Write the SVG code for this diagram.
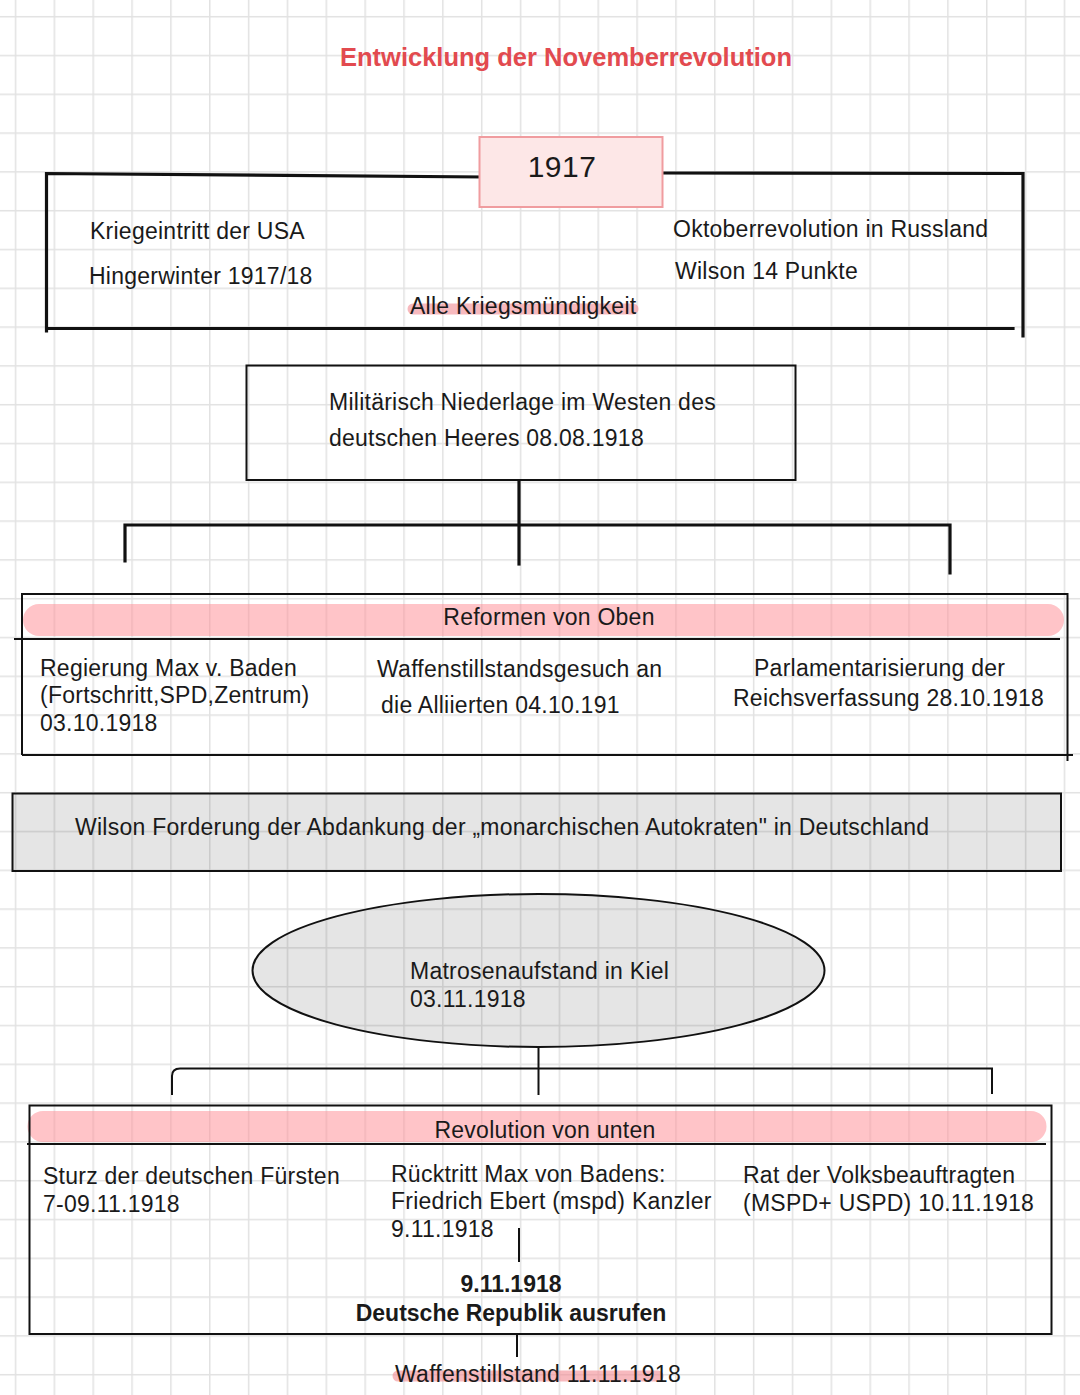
<svg xmlns="http://www.w3.org/2000/svg" width="1080" height="1395" viewBox="0 0 1080 1395">
<defs>
<pattern id="grid" patternUnits="userSpaceOnUse" x="14.75" y="15.95" width="38.85" height="38.8">
<path d="M0 0.75 H38.85 M0.75 0 V38.8" fill="none" stroke="#e2e2e2" stroke-width="1.5"/>
</pattern>
<style>
.t{font-family:"Liberation Sans",Arial,Helvetica,sans-serif;font-size:23px;fill:#1a1a1a;letter-spacing:0.25px}
.b{font-weight:bold;letter-spacing:0}
.c{text-anchor:middle}
.thick{fill:none;stroke:#111;stroke-width:3.2;stroke-linecap:square}
.thin{fill:none;stroke:#111;stroke-width:2}
.box{fill:none;stroke:#111;stroke-width:2}
.band{fill:#ff8a92;fill-opacity:0.5}
.hl{fill:none;stroke:#f28b93;stroke-opacity:0.6;stroke-linecap:round}
.gray{fill:#000;fill-opacity:0.1;stroke:#111;stroke-width:2}
</style>
</defs>
<rect width="1080" height="1395" fill="#fff"/>
<rect width="1080" height="1395" fill="url(#grid)"/>

<g id="title">
<text class="t b c" x="566" y="66" style="font-size:25.5px;fill:#e24a4f">Entwicklung der Novemberrevolution</text>
</g>

<g id="connectors">
<path class="thick" d="M484 177 L46.5 173.5 L46.5 331"/>
<path class="thick" d="M49 328.5 L1013 328.5"/>
<path class="thick" d="M663 173 L1023 173.5 L1023 336"/>
<path class="thick" d="M519 481 L519 564"/>
<path class="thick" d="M125 561 L125 525 L950 525 L950 573"/>
<path class="thin" d="M538.5 1047 L538.5 1095"/>
<path class="thin" d="M172 1095 L172 1076 Q172 1068.5 180 1068.5 L992 1068.5 L992 1094"/>
<path class="thin" d="M519 1228 L519 1262"/>
<path class="thin" d="M517 1335 L517 1357"/>
</g>

<g id="node-1917">
<rect x="479.5" y="137" width="183" height="70" fill="#fde7e7" stroke="#f09c9f" stroke-width="2"/>
<text class="t c" x="562" y="177" style="font-size:30px;letter-spacing:0.5px">1917</text>
</g>

<g id="node-1917-texts">
<text class="t" x="90" y="239">Kriegeintritt der USA</text>
<text class="t" x="89" y="284">Hingerwinter 1917/18</text>
<text class="t" x="673" y="237">Oktoberrevolution in Russland</text>
<text class="t" x="675" y="279">Wilson 14 Punkte</text>
<path class="hl" d="M413 309 L633 309" stroke-width="11"/>
<text class="t" x="410" y="314">Alle Kriegsmündigkeit</text>
</g>

<g id="node-niederlage">
<rect class="box" x="246.5" y="365.5" width="549" height="114.5"/>
<text class="t" x="329" y="410">Militärisch Niederlage im Westen des</text>
<text class="t" x="329" y="446">deutschen Heeres  08.08.1918</text>
</g>

<g id="node-reformen">
<path class="band" d="M39 604 H1048 A16 16 0 0 1 1048 636 H39 A16 16 0 0 1 39 604 Z"/>
<path class="box" d="M22 755 V594 H1067.5 V761"/>
<path class="box" d="M22 755 H1073"/>
<path class="box" d="M14 639 H1060"/>
<text class="t c" x="549" y="625">Reformen von Oben</text>
<text class="t" x="40" y="676">Regierung Max v. Baden</text>
<text class="t" x="40" y="703">(Fortschritt,SPD,Zentrum)</text>
<text class="t" x="40" y="731">03.10.1918</text>
<text class="t" x="377" y="677">Waffenstillstandsgesuch an</text>
<text class="t" x="381" y="713">die Alliierten 04.10.191</text>
<text class="t" x="754" y="676">Parlamentarisierung der</text>
<text class="t" x="733" y="706">Reichsverfassung 28.10.1918</text>
</g>

<g id="node-wilson">
<rect class="gray" x="12.5" y="793.5" width="1048.5" height="77.5"/>
<text class="t" x="75" y="835">Wilson Forderung der Abdankung der „monarchischen Autokraten" in Deutschland</text>
</g>

<g id="node-kiel">
<ellipse class="gray" cx="538.5" cy="970.5" rx="286" ry="76.5"/>
<text class="t" x="410" y="979">Matrosenaufstand in Kiel</text>
<text class="t" x="410" y="1007">03.11.1918</text>
</g>

<g id="node-revolution">
<path class="band" d="M43 1111 H1031 A15.5 15.5 0 0 1 1031 1142 H43 A15.5 15.5 0 0 1 43 1111 Z"/>
<rect class="box" x="29.5" y="1105.5" width="1022" height="228.5"/>
<path class="box" d="M27 1144 H1046"/>
<text class="t c" x="545" y="1138">Revolution von unten</text>
<text class="t" x="43" y="1184">Sturz der deutschen Fürsten</text>
<text class="t" x="43" y="1212">7-09.11.1918</text>
<text class="t" x="391" y="1182">Rücktritt Max von Badens:</text>
<text class="t" x="391" y="1209">Friedrich Ebert (mspd) Kanzler</text>
<text class="t" x="391" y="1237">9.11.1918</text>
<text class="t" x="743" y="1183">Rat der Volksbeauftragten</text>
<text class="t" x="743" y="1211">(MSPD+ USPD) 10.11.1918</text>
<text class="t b c" x="511" y="1292">9.11.1918</text>
<text class="t b c" x="511" y="1321">Deutsche Republik ausrufen</text>
</g>

<g id="node-waffenstillstand">
<path class="hl" d="M398 1376 L658 1376" stroke-width="11"/>
<text class="t" x="395" y="1382">Waffenstillstand 11.11.1918</text>
</g>
</svg>
